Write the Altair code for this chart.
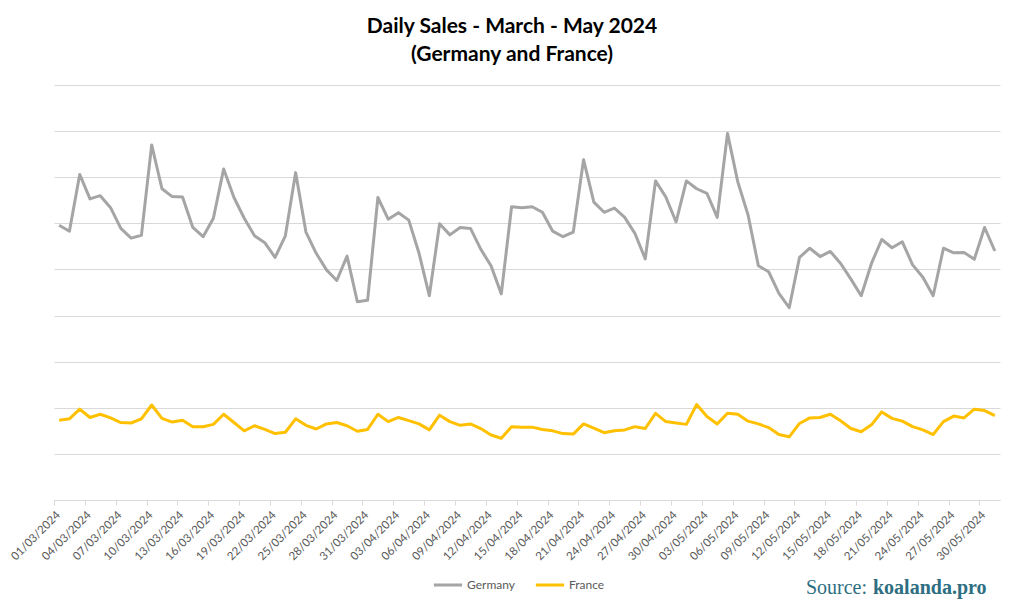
import altair as alt
import pandas as pd

dates = pd.date_range("2024-03-01", "2024-05-31", freq="D")

germany = [596, 583, 706, 653, 660, 634, 589, 568, 574, 770,
           675, 658, 657, 591, 571, 611, 718, 656, 611, 573,
           558, 526, 573, 710, 581, 535, 499, 476, 529, 430,
           433, 656, 609, 623, 607, 535, 443, 599, 575, 591,
           589, 544, 508, 447, 636, 634, 636, 624, 583, 571,
           581, 738, 646, 624, 633, 613, 578, 523, 692, 657,
           603, 692, 675, 665, 613, 795, 690, 618, 508, 495,
           448, 417, 526, 546, 528, 539, 513, 479, 443, 513,
           565, 547, 560, 510, 483, 443, 546, 536, 537, 522,
           591, 540]

france = [173, 176, 197, 179, 186, 178, 168, 167, 176, 206,
          177, 169, 173, 159, 159, 164, 186, 168, 150, 161,
          153, 144, 147, 176, 162, 154, 165, 168, 161, 149,
          153, 186, 170, 179, 172, 165, 152, 184, 170, 162,
          165, 155, 141, 134, 159, 158, 158, 153, 150, 144,
          143, 165, 156, 146, 150, 152, 159, 155, 188, 170,
          167, 164, 207, 181, 165, 188, 186, 171, 165, 157,
          142, 137, 166, 178, 179, 186, 172, 155, 148, 163,
          191, 177, 171, 159, 152, 142, 170, 182, 178, 197,
          194, 183]

series_names = ["Germany", "France"]
series_colors = ["#a5a5a5", "#ffc000"]

rows = []
for d, g, f in zip(dates, germany, france):
    ts = d.strftime("%Y-%m-%d") + "T12:00:00"
    rows.append({"date": ts, "country": "Germany", "sales": g})
    rows.append({"date": ts, "country": "France", "sales": f})
df = pd.DataFrame(rows)

tick_dates = pd.date_range("2024-03-01", "2024-05-31", freq="3D")
tick_values = [alt.DateTime(year=t.year, month=t.month, date=t.day) for t in tick_dates]

W, H = 946, 415

lines = alt.Chart(df).mark_line(strokeWidth=3, strokeJoin="round").encode(
    x=alt.X("date:T",
            scale=alt.Scale(domain=[alt.DateTime(year=2024, month=3, date=1),
                                    alt.DateTime(year=2024, month=6, date=1)]),
            axis=alt.Axis(title=None, values=tick_values, format="%d/%m/%Y",
                          labelAngle=-45, labelFontSize=11.5, labelColor="#595959",
                          labelFont="Lato", labelOverlap=False, labelPadding=4,
                          domainColor="#d9d9d9", tickColor="#d9d9d9", tickSize=5,
                          grid=False)),
    y=alt.Y("sales:Q", scale=alt.Scale(domain=[0, 900], nice=False),
            axis=alt.Axis(title=None, labels=False, ticks=False, domain=False,
                          values=list(range(0, 901, 100)), gridColor="#d9d9d9",
                          gridWidth=1)),
    color=alt.Color("country:N",
                    scale=alt.Scale(domain=series_names, range=series_colors),
                    sort=series_names,
                    legend=alt.Legend(title=None, orient="none", direction="horizontal",
                                      legendX=378, legendY=484, symbolType="stroke",
                                      symbolSize=800, symbolStrokeWidth=3,
                                      labelFontSize=12, labelColor="#595959",
                                      labelFont="Lato", labelOffset=3)),
    detail="country:N",
)

src = pd.DataFrame({"a": ["Source:"], "b": ["koalanda.pro"]})
src1 = alt.Chart(src).mark_text(align="right", baseline="alphabetic", fontSize=20,
                                font="Liberation Serif", color="#2e6e82").encode(
    x=alt.value(813), y=alt.value(509), text="a:N")
src2 = alt.Chart(src).mark_text(align="left", baseline="alphabetic", fontSize=20,
                                font="Liberation Serif", fontWeight="bold",
                                color="#2e6e82").encode(
    x=alt.value(819), y=alt.value(509), text="b:N")

chart = alt.layer(lines, src1, src2).properties(
    width=W, height=H,
    title=alt.TitleParams(["Daily Sales - March - May 2024", "(Germany and France)"],
                          font="Lato", fontSize=21, fontWeight="bold", color="#000000",
                          lineHeight=28, anchor="middle", dx=-15, offset=20),
    padding={"left": 46, "top": 77, "right": 16, "bottom": 100},
    autosize=alt.AutoSizeParams(type="none"),
).configure_view(stroke=None).configure_legend(columnPadding=14)

chart.save("out.html", embed_options={"renderer": "svg", "actions": False})
